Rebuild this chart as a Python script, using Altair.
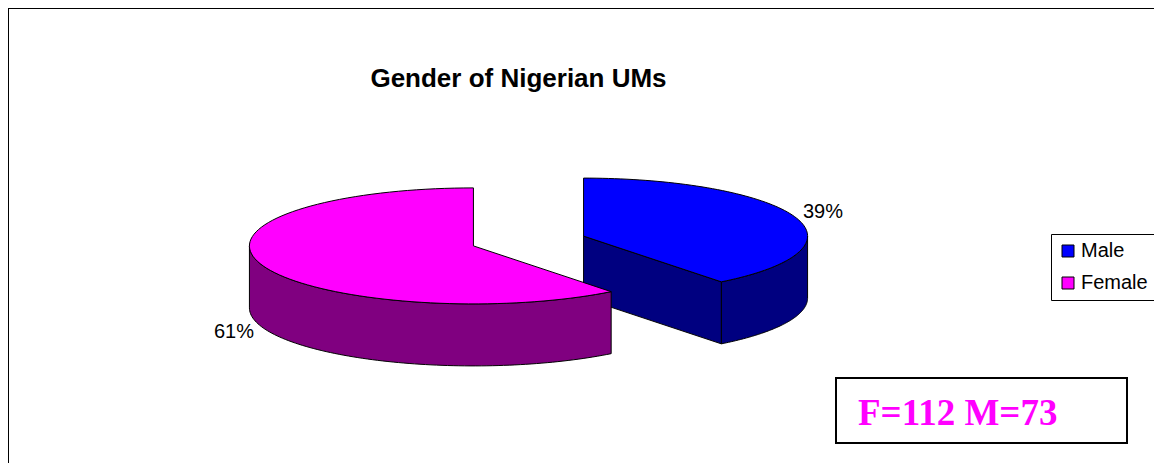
import math
import numpy as np
import pandas as pd
import altair as alt

# ---- data ----
categories = ["Male", "Female"]
counts = [73, 112]
chart_title = "Gender of Nigerian UMs"

# ---- styles / layout ----
top_colors = {"Male": "#0000FF", "Female": "#FF00FF"}
side_colors = {"Male": "#000080", "Female": "#800080"}
W, H = 1146, 455
CX, CY = 520.5, 233.0          # common pie centre (plot coords)
RX, RY, DEPTH = 224.0, 58.0, 62.0
EXPLODE = 0.26
FONT = "Liberation Sans"

total = sum(counts)
fracs = [c / total for c in counts]

xs = alt.Scale(domain=[0, W], nice=False, zero=False)
ys = alt.Scale(domain=[0, H], nice=False, zero=False, reverse=True)


def arc(cx, cy, a, b, dz=0.0, n=90):
    ts = np.radians(np.linspace(a, b, n))
    return [(cx + RX * math.cos(t), cy + RY * math.sin(t) + dz) for t in ts]


def poly_layer(points, fill):
    pts = list(points) + [points[0]]
    df = pd.DataFrame({"x": [p[0] for p in pts], "y": [p[1] for p in pts],
                       "i": list(range(len(pts)))})
    return alt.Chart(df).mark_line(
        fill=fill, stroke="black", strokeWidth=1, strokeJoin="miter"
    ).encode(
        x=alt.X("x:Q", scale=xs, axis=None),
        y=alt.Y("y:Q", scale=ys, axis=None),
        order=alt.Order("i:Q"),
    )


layers = []
label_layers = []
centres = []
start = -90.0
for cat, f, c in zip(categories, fracs, counts):
    t0, t1 = start, start + 360.0 * f
    start = t1
    m = math.radians((t0 + t1) / 2)
    cx = CX + EXPLODE * RX * math.cos(m)
    cy = CY + EXPLODE * RY * math.sin(m)
    centres.append((cat, cx, cy))
    # outer wall (front half only)
    lo, hi = max(t0, 0.0), min(t1, 180.0)
    if hi > lo:
        wall = arc(cx, cy, lo, hi) + arc(cx, cy, hi, lo, DEPTH)
        layers.append(poly_layer(wall, side_colors[cat]))
    # radial faces
    for t, sign in ((t0, -1), (t1, 1)):
        if sign * math.cos(math.radians(t)) > 1e-6:
            e = arc(cx, cy, t, t, n=1)[0]
            face = [(cx, cy), e, (e[0], e[1] + DEPTH), (cx, cy + DEPTH)]
            layers.append(poly_layer(face, side_colors[cat]))
    # top face
    top = [(cx, cy)] + arc(cx, cy, t0, t1)
    layers.append(poly_layer(top, top_colors[cat]))
    # percentage label
    front = math.sin(m) > 0
    lx = cx + (RX + 8) * math.cos(m)
    ly = cy + (RY + 8) * math.sin(m) + (DEPTH + 3 if front else -3)
    ldf = pd.DataFrame({"x": [lx], "y": [ly], "t": [f"{round(f * 100)}%"]})
    label_layers.append(
        alt.Chart(ldf).mark_text(
            align="left" if math.cos(m) >= 0 else "right", baseline="middle",
            font=FONT, fontSize=20, color="black"
        ).encode(x=alt.X("x:Q", scale=xs, axis=None),
                 y=alt.Y("y:Q", scale=ys, axis=None), text="t:N")
    )

# legend carrier (invisible points)
cdf = pd.DataFrame({"cat": [c[0] for c in centres], "x": [c[1] for c in centres],
                    "y": [c[2] for c in centres]})
legend_layer = alt.Chart(cdf).mark_square(size=0, opacity=1).encode(
    x=alt.X("x:Q", scale=xs, axis=None),
    y=alt.Y("y:Q", scale=ys, axis=None),
    color=alt.Color(
        "cat:N",
        scale=alt.Scale(domain=categories, range=[top_colors[c] for c in categories]),
        sort=categories,
        legend=alt.Legend(
            title=None, orient="none", legendX=1043, legendY=226,
            symbolType="square", symbolSize=144, symbolStrokeColor="black",
            symbolStrokeWidth=1, symbolOpacity=1,
            labelFont=FONT, labelFontSize=20, labelColor="black", labelOffset=3,
            padding=7, rowPadding=12, strokeColor="black", fillColor="white",
            cornerRadius=0,
        ),
    ),
)

one = pd.DataFrame({"t": [chart_title]})
title_layer = alt.Chart(one).mark_text(
    font=FONT, fontSize=26, fontWeight="bold", color="black",
    align="center", baseline="alphabetic"
).encode(x=alt.value(510.5), y=alt.value(79), text="t:N")

box_df = pd.DataFrame({"t": [f"F={counts[1]} M={counts[0]}"]})
box_layer = alt.Chart(box_df).mark_rect(
    fill="white", stroke="black", strokeWidth=2
).encode(x=alt.value(828), x2=alt.value(1119), y=alt.value(370), y2=alt.value(435))
box_text = alt.Chart(box_df).mark_text(
    font="Liberation Serif", fontSize=37, fontWeight="bold", color="#FF00FF",
    align="left", baseline="alphabetic"
).encode(x=alt.value(850), y=alt.value(417), text="t:N")

border_top = alt.Chart(one).mark_rule(color="black", strokeWidth=1).encode(
    x=alt.value(0), x2=alt.value(W), y=alt.value(0.5))
border_left = alt.Chart(one).mark_rule(color="black", strokeWidth=1).encode(
    x=alt.value(0.5), y=alt.value(0), y2=alt.value(H))

chart = alt.layer(
    legend_layer, border_top, border_left, *layers, *label_layers,
    title_layer, box_layer, box_text
).properties(
    width=W, height=H, padding=0,
    autosize=alt.AutoSizeParams(type="none"),
    background="white",
).configure_view(strokeWidth=0)

chart.save("out.html", embed_options={"renderer": "svg", "actions": False})
